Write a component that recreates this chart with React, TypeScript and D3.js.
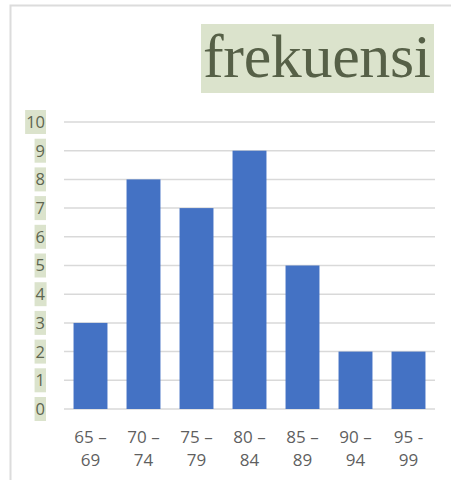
import React, { useEffect, useRef } from "react";
import * as d3 from "d3";

const categories: string[] = ["65 – 69", "70 – 74", "75 – 79", "80 – 84", "85 – 89", "90 – 94", "95 - 99"];
const labelLine1: string[] = ["65 –", "70 –", "75 –", "80 –", "85 –", "90 –", "95 -"];
const labelLine2: string[] = ["69", "74", "79", "84", "89", "94", "99"];
const frekuensi: number[] = [3, 8, 7, 9, 5, 2, 2];
const yTicks: number[] = [0, 1, 2, 3, 4, 5, 6, 7, 8, 9, 10];
const titleText = "frekuensi";

const W = 451;
const H = 480;

export default function App() {
  const ref = useRef<SVGSVGElement | null>(null);

  useEffect(() => {
    const svg = d3.select(ref.current);
    svg.selectAll("*").remove();

    const x = d3
      .scaleBand<string>()
      .domain(categories)
      .range([64, 435])
      .paddingInner(0.36)
      .paddingOuter(0.18);
    const y = d3.scaleLinear().domain([0, 10]).range([409, 122]);

    // frame
    svg
      .append("path")
      .attr("d", `M10.5,${H} L10.5,5.5 L${W},5.5`)
      .attr("fill", "none")
      .attr("stroke", "#dcdcdc")
      .attr("stroke-width", 2);

    // gridlines
    svg
      .append("g")
      .selectAll("line")
      .data(yTicks)
      .join("line")
      .attr("x1", 64)
      .attr("x2", 435)
      .attr("y1", (d) => y(d))
      .attr("y2", (d) => y(d))
      .attr("stroke", "#d9d9d9")
      .attr("stroke-width", 1.5);

    // bars
    svg
      .append("g")
      .selectAll("rect")
      .data(frekuensi)
      .join("rect")
      .attr("x", (_d, i) => x(categories[i])!)
      .attr("width", x.bandwidth())
      .attr("y", (d) => y(d))
      .attr("height", (d) => y(0) - y(d))
      .attr("fill", "#4472C4");

    // y tick labels with highlight
    const yg = svg.append("g");
    yTicks.forEach((t) => {
      const g = yg.append("g");
      const rect = g.append("rect").attr("fill", "#dbe3cc");
      const txt = g
        .append("text")
        .attr("x", 45)
        .attr("y", y(t))
        .attr("dy", "0.36em")
        .attr("text-anchor", "end")
        .attr("font-family", "'Open Sans', sans-serif")
        .attr("font-size", 16.5)
        .attr("fill", "#5e6650")
        .text(String(t));
      const bb = (txt.node() as SVGTextElement).getBBox();
      rect
        .attr("x", bb.x - 1)
        .attr("y", y(t) - 12)
        .attr("width", bb.width + 2)
        .attr("height", 24);
    });

    // x labels
    const xg = svg.append("g");
    categories.forEach((c, i) => {
      const cx = x(c)! + x.bandwidth() / 2;
      const t = xg
        .append("text")
        .attr("text-anchor", "middle")
        .attr("font-family", "'Open Sans', sans-serif")
        .attr("font-size", 17)
        .attr("fill", "#5f5f5f");
      t.append("tspan").attr("x", cx).attr("y", 443).text(labelLine1[i]);
      t.append("tspan").attr("x", cx).attr("y", 466).text(labelLine2[i]);
    });

    // title
    const tg = svg.append("g");
    tg.append("rect")
      .attr("fill", "#dbe3cc")
      .attr("x", 201)
      .attr("y", 24)
      .attr("width", 233)
      .attr("height", 69);
    tg.append("text")
      .attr("x", 203)
      .attr("y", 77)
      .attr("textLength", 228)
      .attr("lengthAdjust", "spacing")
      .attr("font-family", "'Liberation Serif', 'Times New Roman', serif")
      .attr("font-size", 62)
      .attr("fill", "#566047")
      .text(titleText);
  }, []);

  return (
    <svg
      ref={ref}
      width={W}
      height={H}
      style={{ position: "absolute", left: 0, top: 0, display: "block", background: "#ffffff" }}
    />
  );
}
